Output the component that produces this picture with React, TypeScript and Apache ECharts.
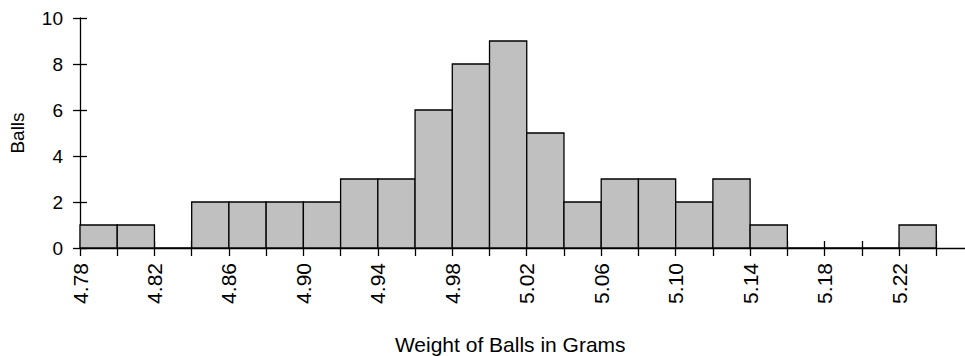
import React, { useEffect, useRef } from "react";
import * as echarts from "echarts";

const binStarts = [
  4.78, 4.8, 4.82, 4.84, 4.86, 4.88, 4.9, 4.92, 4.94, 4.96, 4.98, 5.0,
  5.02, 5.04, 5.06, 5.08, 5.1, 5.12, 5.14, 5.16, 5.18, 5.2, 5.22,
];
const binWidth = 0.02;
const counts = [1, 1, 0, 2, 2, 2, 2, 3, 3, 6, 8, 9, 5, 2, 3, 3, 2, 3, 1, 0, 0, 0, 1];
const xTickLabels = ["4.78", "4.82", "4.86", "4.90", "4.94", "4.98", "5.02", "5.06", "5.10", "5.14", "5.18", "5.22"];
const yTicks = [0, 2, 4, 6, 8, 10];

const FONT = "'Liberation Sans', Arial, Helvetica, sans-serif";

export default function App() {
  const ref = useRef<HTMLDivElement>(null);
  useEffect(() => {
    if (!ref.current) return;
    const chart = echarts.init(ref.current, undefined, { renderer: "svg" });
    const xCommon = {
      type: "value" as const,
      min: 4.78,
      max: 5.26,
      interval: 0.02,
      position: "bottom" as const,
      splitLine: { show: false },
    };
    const yCommon = {
      type: "value" as const,
      min: yTicks[0],
      max: yTicks[yTicks.length - 1],
      interval: 2,
      position: "left" as const,
      splitLine: { show: false },
    };
    chart.setOption({
      animation: false,
      backgroundColor: "#fff",
      grid: { left: 80, right: -8.5, top: 18, bottom: 108, containLabel: false, outerBoundsMode: "none" },
      xAxis: [
        {
          ...xCommon,
          axisLine: { show: true, lineStyle: { color: "#000", width: 1.3 } },
          axisTick: { show: true, inside: false, length: 8, lineStyle: { color: "#000", width: 1.3 } },
          axisLabel: {
            show: true,
            rotate: 90,
            margin: 15,
            fontFamily: FONT,
            fontSize: 21,
            color: "#000",
            formatter: (v: number) => {
              const s = v.toFixed(2);
              return xTickLabels.includes(s) ? s : "";
            },
          },
          name: "Weight of Balls in Grams",
          nameLocation: "middle",
          nameGap: 86,
          nameTextStyle: {
            fontFamily: FONT,
            fontSize: 21,
            color: "#000",
            verticalAlign: "top",
            padding: [0, 33, 0, 0],
          },
        },
        {
          ...xCommon,
          axisLine: { show: false },
          axisTick: { show: true, inside: true, length: 7, lineStyle: { color: "#000", width: 1.3 } },
          axisLabel: { show: false },
        },
      ],
      yAxis: [
        {
          ...yCommon,
          axisLine: { show: true, lineStyle: { color: "#000", width: 1.3 } },
          axisTick: { show: true, inside: false, length: 7, lineStyle: { color: "#000", width: 1.3 } },
          axisLabel: { show: true, margin: 17, fontFamily: FONT, fontSize: 19, color: "#000" },
          name: "Balls",
          nameLocation: "middle",
          nameGap: 53,
          nameRotate: 90,
          nameTextStyle: { fontFamily: FONT, fontSize: 19, color: "#000" },
        },
        {
          ...yCommon,
          axisLine: { show: false },
          axisTick: { show: true, inside: true, length: 7, lineStyle: { color: "#000", width: 1.3 } },
          axisLabel: { show: false },
        },
      ],
      series: [
        {
          type: "custom",
          xAxisIndex: 0,
          yAxisIndex: 0,
          data: binStarts.map((s, i) => [s, s + binWidth, counts[i]]),
          renderItem: (_params: any, api: any) => {
            const x0 = api.value(0);
            const x1 = api.value(1);
            const v = api.value(2);
            const p0 = api.coord([x0, v]);
            const p1 = api.coord([x1, 0]);
            return {
              type: "rect",
              shape: { x: p0[0], y: p0[1], width: p1[0] - p0[0], height: p1[1] - p0[1] },
              style: { fill: "#c0c0c0", stroke: "#000", lineWidth: 1.3 },
            };
          },
        },
      ],
    });
    return () => chart.dispose();
  }, []);
  return (
    <div
      ref={ref}
      style={{ position: "fixed", left: 0, top: 0, width: 965, height: 356, background: "#fff" }}
    />
  );
}
